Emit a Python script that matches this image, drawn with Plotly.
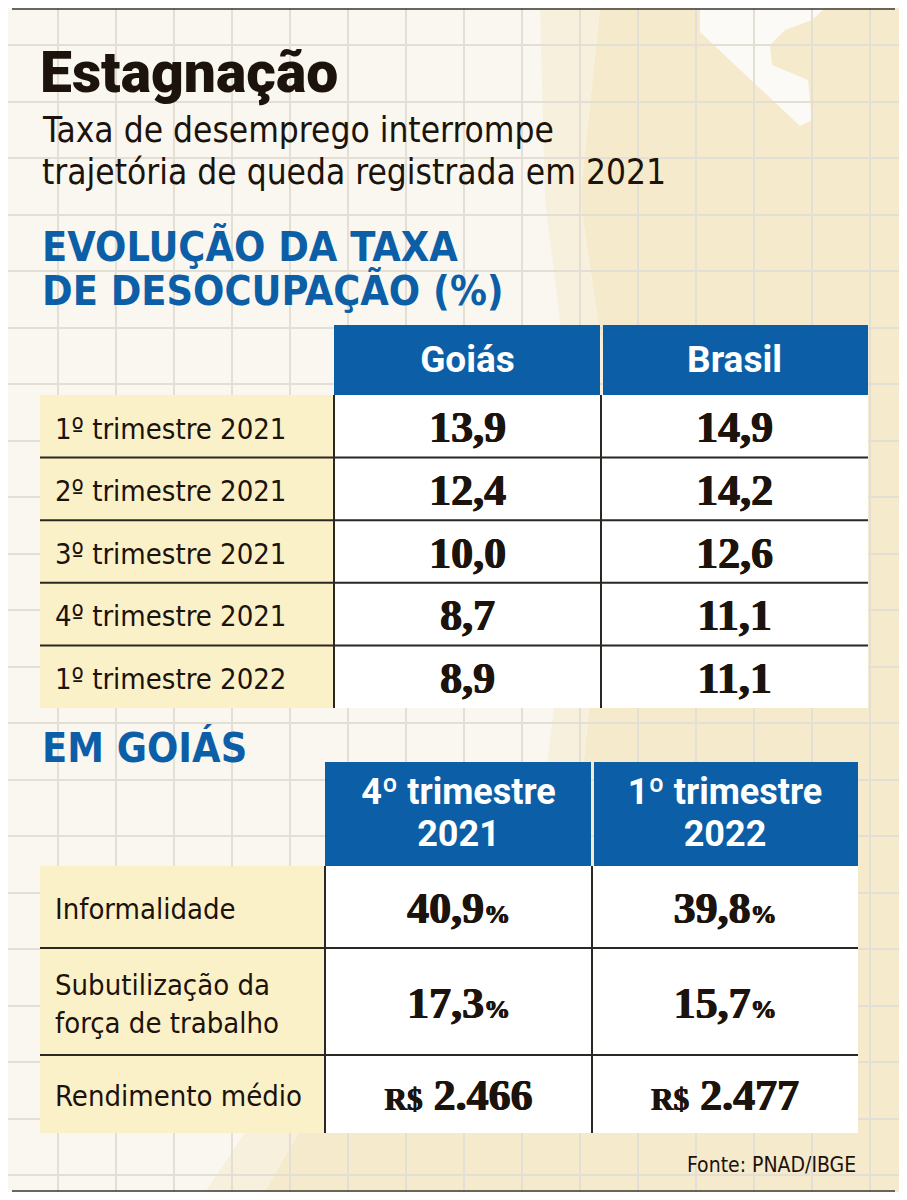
import plotly.graph_objects as go

# ---------------- data ----------------
periodos = ["1º trimestre 2021", "2º trimestre 2021", "3º trimestre 2021",
            "4º trimestre 2021", "1º trimestre 2022"]
colunas_t1 = ["Goiás", "Brasil"]
taxa_goias = [13.9, 12.4, 10.0, 8.7, 8.9]
taxa_brasil = [14.9, 14.2, 12.6, 11.1, 11.1]

indicadores = ["Informalidade", "Subutilização da<br>força de trabalho", "Rendimento médio"]
colunas_t2 = ["4º trimestre 2021", "1º trimestre 2022"]
goias_4t2021 = [40.9, 17.3, 2466]
goias_1t2022 = [39.8, 15.7, 2477]
unidades = ["%", "%", "R$"]

titulo = "Estagnação"
subtitulo = ["Taxa de desemprego interrompe", "trajetória de queda registrada em 2021"]
secao1 = ["EVOLUÇÃO DA TAXA", "DE DESOCUPAÇÃO (%)"]
secao2 = "EM GOIÁS"
fonte = "Fonte: PNAD/IBGE"

# ---------------- style ----------------
OFF = 8                     # page body margin
W, H = 907, 1200
BLUE = "#0c5fa6"
CREAM = "#fbf1c8"
INK = "#1c130c"
LINE = "#2b2722"
SANS_C = "Liberation Sans Narrow, DejaVu Sans Condensed, Roboto, sans-serif"
HEAD = "Roboto, Inter, sans-serif"
SERIF = "Liberation Serif, DejaVu Serif, serif"
THICK = "0.7px 0 0 #1c130c, -0.5px 0 0 #1c130c"
DY = 5                      # optical baseline correction for text in cells

def br1(v):
    return f"{v:.1f}".replace(".", ",")

def fmt2(v, u):
    if u == "%":
        return f"{br1(v)}<span style='font-size:26px'>%</span>"
    return f"<span style='font-size:31px'>{u}</span> {v:,}".replace(",", ".")

fig = go.Figure()

def cells(col_edges, row_edges, fills):
    n = len(row_edges) - 1
    for ci, fill in enumerate(fills):
        x0, x1 = col_edges[ci], col_edges[ci + 1]
        fig.add_trace(go.Bar(
            x=[(x0 + x1) / 2] * n,
            y=[row_edges[r + 1] - row_edges[r] for r in range(n)],
            base=row_edges[:-1],
            width=[x1 - x0] * n,
            marker=dict(color=fill, line=dict(width=0)),
            hoverinfo="skip", showlegend=False))

def texts(xs, ys, txt, pos, family, size, color, weight="normal", shadow=None):
    tf = dict(family=family, size=size, color=color, weight=weight)
    if shadow:
        tf["shadow"] = shadow
    fig.add_trace(go.Scatter(
        x=xs, y=ys, text=txt, mode="text", textposition=pos, textfont=tf,
        hoverinfo="skip", showlegend=False, cliponaxis=False))

shapes = []
def hline(y, x0, x1, w=2, c=LINE):
    shapes.append(dict(type="line", x0=x0, x1=x1, y0=y, y1=y, xref="x", yref="y",
                       line=dict(color=c, width=w)))
def vline(x, y0, y1, w=2, c=LINE):
    shapes.append(dict(type="line", x0=x, x1=x, y0=y0, y1=y1, xref="x", yref="y",
                       line=dict(color=c, width=w)))

gap = 3

# ---------------- table 1 ----------------
t1_cols = [40, 334, 601, 868]
t1_head = [325, 395]
t1_rows = [395 + i * 62.6 for i in range(len(periodos) + 1)]
for ci in range(len(colunas_t1)):
    x0 = t1_cols[ci + 1] + (gap / 2 if ci else 0)
    x1 = t1_cols[ci + 2] - (gap / 2 if ci == 0 else 0)
    cells([x0, x1], t1_head, [BLUE])
cells(t1_cols, t1_rows, [CREAM, "white", "white"])

row_c1 = [(t1_rows[i] + t1_rows[i + 1]) / 2 + DY for i in range(len(periodos))]
col_c1 = [(t1_cols[i] + t1_cols[i + 1]) / 2 for i in (1, 2)]
texts([55] * len(periodos), row_c1, periodos, "middle right", SANS_C, 29, INK)
texts([col_c1[0]] * len(periodos), row_c1, [br1(v) for v in taxa_goias], "middle center", SERIF, 44, INK, "bold", THICK)
texts([col_c1[1]] * len(periodos), row_c1, [br1(v) for v in taxa_brasil], "middle center", SERIF, 44, INK, "bold", THICK)
texts(col_c1, [sum(t1_head) / 2 + 3] * 2, colunas_t1, "middle center", HEAD, 37, "white", "bold")
for y in t1_rows[1:-1]:
    hline(y, t1_cols[0], t1_cols[-1])
for x in t1_cols[1:-1]:
    vline(x, t1_rows[0], t1_rows[-1])

# ---------------- table 2 ----------------
t2_cols = [40, 325, 592, 858]
t2_head = [762, 866]
t2_rows = [866, 948, 1055, 1133]
for ci in range(len(colunas_t2)):
    x0 = t2_cols[ci + 1] + (gap / 2 if ci else 0)
    x1 = t2_cols[ci + 2] - (gap / 2 if ci == 0 else 0)
    cells([x0, x1], t2_head, [BLUE])
cells(t2_cols, t2_rows, [CREAM, "white", "white"])

row_c2 = [(t2_rows[i] + t2_rows[i + 1]) / 2 + DY for i in range(len(indicadores))]
col_c2 = [(t2_cols[i] + t2_cols[i + 1]) / 2 for i in (1, 2)]
texts([55] * len(indicadores), row_c2, indicadores, "middle right", SANS_C, 29, INK)
texts([col_c2[0]] * 3, row_c2, [fmt2(v, u) for v, u in zip(goias_4t2021, unidades)], "middle center", SERIF, 44, INK, "bold", THICK)
texts([col_c2[1]] * 3, row_c2, [fmt2(v, u) for v, u in zip(goias_1t2022, unidades)], "middle center", SERIF, 44, INK, "bold", THICK)
hc = sum(t2_head) / 2
texts(col_c2, [hc - 19] * 2, [c.rsplit(" ", 1)[0] for c in colunas_t2], "middle center", HEAD, 36, "white", "bold")
texts(col_c2, [hc + 23] * 2, [c.rsplit(" ", 1)[1] for c in colunas_t2], "middle center", HEAD, 36, "white", "bold")
for y in t2_rows[1:-1]:
    hline(y, t2_cols[0], t2_cols[-1])
for x in t2_cols[1:-1]:
    vline(x, t2_rows[0], t2_rows[-1])

# ---------------- background ----------------
bg = [
    dict(type="path", path="M 600 8 L 907 8 L 907 1200 L 260 1200 L 300 1130 L 560 1000 L 590 700 L 610 400 L 580 200 Z",
         fillcolor="#f5eacb", line=dict(width=0), layer="below", xref="x", yref="y"),
    dict(type="path", path="M 540 8 L 600 8 L 580 200 L 610 400 L 590 700 L 560 1000 L 300 1130 L 260 1200 L 200 1200 L 260 1110 L 520 980 L 555 700 L 570 400 L 545 200 Z",
         fillcolor="#f7f0dc", line=dict(width=0), layer="below", xref="x", yref="y"),
    dict(type="path", path="M 700 8 L 825 8 L 812 20 L 785 30 L 770 45 L 772 65 L 808 80 L 812 120 L 800 126 L 700 32 Z",
         fillcolor="#fbfaf6", line=dict(width=0), layer="below", xref="x", yref="y"),
]
hline(9, 12, 895, 1.5, "#3a3632")
hline(1191, 12, 895, 1.5, "#3a3632")

ann = []
def note(x, y, t, family, size, color, weight="normal", xa="left"):
    ann.append(dict(x=x, y=y, xref="x", yref="y", text=t, showarrow=False, xanchor=xa,
                    yanchor="middle", font=dict(family=family, size=size, color=color, weight=weight)))

note(38, 72, titulo, HEAD, 57, INK, 900)
note(40, 130, subtitulo[0], SANS_C, 35, INK)
note(40, 172, subtitulo[1], SANS_C, 35, INK)
note(40, 246, secao1[0], SANS_C, 41, BLUE, "bold")
note(40, 290, secao1[1], SANS_C, 41, BLUE, "bold")
note(40, 748, secao2, SANS_C, 41, BLUE, "bold")
note(858, 1165, fonte, SANS_C, 21, INK, xa="right")

fig.update_layout(
    width=W - 2 * OFF, height=H - 2 * OFF, margin=dict(l=0, r=0, t=0, b=0),
    paper_bgcolor="#f9f7f0", plot_bgcolor="rgba(0,0,0,0)",
    barmode="overlay", bargap=0,
    shapes=bg + shapes, annotations=ann,
    xaxis=dict(range=[OFF, W - OFF], showgrid=True, tick0=58, dtick=58, gridcolor="#e4dfd4", gridwidth=1.5,
               showticklabels=False, zeroline=False, showline=False, ticks="", fixedrange=True),
    yaxis=dict(range=[H - OFF, OFF], showgrid=True, tick0=45, dtick=56.5, gridcolor="#e4dfd4", gridwidth=1.5,
               showticklabels=False, zeroline=False, showline=False, ticks="", fixedrange=True),
)
fig.write_html("out.html", config={"displayModeBar": False})
